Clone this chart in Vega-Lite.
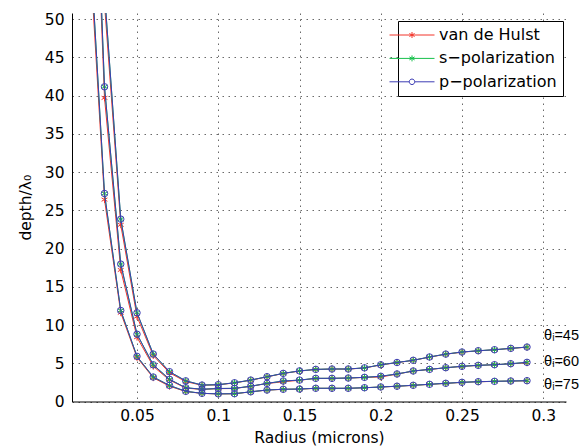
{
  "$schema": "https://vega.github.io/schema/vega-lite/v6.json",
  "width": 494,
  "height": 388.5,
  "autosize": {"type": "none"},
  "padding": {"left": 72, "top": 13, "right": 16, "bottom": 46.5},
  "background": "white",
  "config": {
    "view": {"stroke": null},
    "font": "DejaVu Sans",
    "axis": {
      "domainColor": "black",
      "domainWidth": 1,
      "gridColor": "#6a6a6a",
      "gridDash": [1.5, 4.5],
      "gridWidth": 1,
      "ticks": false,
      "labelFont": "DejaVu Sans",
      "labelFontSize": 15.5,
      "labelColor": "black",
      "titleFont": "DejaVu Sans",
      "titleFontSize": 15.5,
      "titleFontWeight": "normal",
      "titleColor": "black"
    }
  },
  "datasets": {
    "curves": [
      {"r":0.02,"theta":"45","series":"van de Hulst","v":145},
      {"r":0.03,"theta":"45","series":"van de Hulst","v":52},
      {"r":0.04,"theta":"45","series":"van de Hulst","v":23.1},
      {"r":0.05,"theta":"45","series":"van de Hulst","v":11.1},
      {"r":0.06,"theta":"45","series":"van de Hulst","v":6.0},
      {"r":0.07,"theta":"45","series":"van de Hulst","v":3.75},
      {"r":0.08,"theta":"45","series":"van de Hulst","v":2.6},
      {"r":0.09,"theta":"45","series":"van de Hulst","v":2.12},
      {"r":0.10,"theta":"45","series":"van de Hulst","v":2.18},
      {"r":0.11,"theta":"45","series":"van de Hulst","v":2.43},
      {"r":0.12,"theta":"45","series":"van de Hulst","v":2.78},
      {"r":0.13,"theta":"45","series":"van de Hulst","v":3.22},
      {"r":0.14,"theta":"45","series":"van de Hulst","v":3.66},
      {"r":0.15,"theta":"45","series":"van de Hulst","v":3.98},
      {"r":0.16,"theta":"45","series":"van de Hulst","v":4.18},
      {"r":0.17,"theta":"45","series":"van de Hulst","v":4.24},
      {"r":0.18,"theta":"45","series":"van de Hulst","v":4.24},
      {"r":0.19,"theta":"45","series":"van de Hulst","v":4.38},
      {"r":0.20,"theta":"45","series":"van de Hulst","v":4.78},
      {"r":0.21,"theta":"45","series":"van de Hulst","v":5.08},
      {"r":0.22,"theta":"45","series":"van de Hulst","v":5.38},
      {"r":0.23,"theta":"45","series":"van de Hulst","v":5.8},
      {"r":0.24,"theta":"45","series":"van de Hulst","v":6.18},
      {"r":0.25,"theta":"45","series":"van de Hulst","v":6.45},
      {"r":0.26,"theta":"45","series":"van de Hulst","v":6.62},
      {"r":0.27,"theta":"45","series":"van de Hulst","v":6.76},
      {"r":0.28,"theta":"45","series":"van de Hulst","v":6.94},
      {"r":0.29,"theta":"45","series":"van de Hulst","v":7.1},
      {"r":0.02,"theta":"60","series":"van de Hulst","v":94},
      {"r":0.03,"theta":"60","series":"van de Hulst","v":39.7},
      {"r":0.04,"theta":"60","series":"van de Hulst","v":17.2},
      {"r":0.05,"theta":"60","series":"van de Hulst","v":8.4},
      {"r":0.06,"theta":"60","series":"van de Hulst","v":4.6},
      {"r":0.07,"theta":"60","series":"van de Hulst","v":2.8},
      {"r":0.08,"theta":"60","series":"van de Hulst","v":1.75},
      {"r":0.09,"theta":"60","series":"van de Hulst","v":1.58},
      {"r":0.10,"theta":"60","series":"van de Hulst","v":1.68},
      {"r":0.11,"theta":"60","series":"van de Hulst","v":1.7},
      {"r":0.12,"theta":"60","series":"van de Hulst","v":1.98},
      {"r":0.13,"theta":"60","series":"van de Hulst","v":2.35},
      {"r":0.14,"theta":"60","series":"van de Hulst","v":2.58},
      {"r":0.15,"theta":"60","series":"van de Hulst","v":2.78},
      {"r":0.16,"theta":"60","series":"van de Hulst","v":3.01},
      {"r":0.17,"theta":"60","series":"van de Hulst","v":3.02},
      {"r":0.18,"theta":"60","series":"van de Hulst","v":3.06},
      {"r":0.19,"theta":"60","series":"van de Hulst","v":3.15},
      {"r":0.20,"theta":"60","series":"van de Hulst","v":3.2},
      {"r":0.21,"theta":"60","series":"van de Hulst","v":3.58},
      {"r":0.22,"theta":"60","series":"van de Hulst","v":3.98},
      {"r":0.23,"theta":"60","series":"van de Hulst","v":4.19},
      {"r":0.24,"theta":"60","series":"van de Hulst","v":4.41},
      {"r":0.25,"theta":"60","series":"van de Hulst","v":4.59},
      {"r":0.26,"theta":"60","series":"van de Hulst","v":4.72},
      {"r":0.27,"theta":"60","series":"van de Hulst","v":4.8},
      {"r":0.28,"theta":"60","series":"van de Hulst","v":4.93},
      {"r":0.29,"theta":"60","series":"van de Hulst","v":5.05},
      {"r":0.02,"theta":"75","series":"van de Hulst","v":62},
      {"r":0.03,"theta":"75","series":"van de Hulst","v":26.4},
      {"r":0.04,"theta":"75","series":"van de Hulst","v":11.6},
      {"r":0.05,"theta":"75","series":"van de Hulst","v":5.75},
      {"r":0.06,"theta":"75","series":"van de Hulst","v":3.1},
      {"r":0.07,"theta":"75","series":"van de Hulst","v":2.0},
      {"r":0.08,"theta":"75","series":"van de Hulst","v":1.3},
      {"r":0.09,"theta":"75","series":"van de Hulst","v":1.06},
      {"r":0.10,"theta":"75","series":"van de Hulst","v":0.99},
      {"r":0.11,"theta":"75","series":"van de Hulst","v":1.01},
      {"r":0.12,"theta":"75","series":"van de Hulst","v":1.26},
      {"r":0.13,"theta":"75","series":"van de Hulst","v":1.49},
      {"r":0.14,"theta":"75","series":"van de Hulst","v":1.59},
      {"r":0.15,"theta":"75","series":"van de Hulst","v":1.62},
      {"r":0.16,"theta":"75","series":"van de Hulst","v":1.72},
      {"r":0.17,"theta":"75","series":"van de Hulst","v":1.72},
      {"r":0.18,"theta":"75","series":"van de Hulst","v":1.72},
      {"r":0.19,"theta":"75","series":"van de Hulst","v":1.79},
      {"r":0.20,"theta":"75","series":"van de Hulst","v":1.89},
      {"r":0.21,"theta":"75","series":"van de Hulst","v":1.99},
      {"r":0.22,"theta":"75","series":"van de Hulst","v":2.11},
      {"r":0.23,"theta":"75","series":"van de Hulst","v":2.24},
      {"r":0.24,"theta":"75","series":"van de Hulst","v":2.37},
      {"r":0.25,"theta":"75","series":"van de Hulst","v":2.5},
      {"r":0.26,"theta":"75","series":"van de Hulst","v":2.58},
      {"r":0.27,"theta":"75","series":"van de Hulst","v":2.63},
      {"r":0.28,"theta":"75","series":"van de Hulst","v":2.67},
      {"r":0.29,"theta":"75","series":"van de Hulst","v":2.71},

      {"r":0.02,"theta":"45","series":"s−polarization","v":150},
      {"r":0.03,"theta":"45","series":"s−polarization","v":53.5},
      {"r":0.04,"theta":"45","series":"s−polarization","v":23.85},
      {"r":0.05,"theta":"45","series":"s−polarization","v":11.6},
      {"r":0.06,"theta":"45","series":"s−polarization","v":6.2},
      {"r":0.07,"theta":"45","series":"s−polarization","v":3.9},
      {"r":0.08,"theta":"45","series":"s−polarization","v":2.7},
      {"r":0.09,"theta":"45","series":"s−polarization","v":2.15},
      {"r":0.10,"theta":"45","series":"s−polarization","v":2.2},
      {"r":0.11,"theta":"45","series":"s−polarization","v":2.45},
      {"r":0.12,"theta":"45","series":"s−polarization","v":2.8},
      {"r":0.13,"theta":"45","series":"s−polarization","v":3.24},
      {"r":0.14,"theta":"45","series":"s−polarization","v":3.68},
      {"r":0.15,"theta":"45","series":"s−polarization","v":4.0},
      {"r":0.16,"theta":"45","series":"s−polarization","v":4.2},
      {"r":0.17,"theta":"45","series":"s−polarization","v":4.25},
      {"r":0.18,"theta":"45","series":"s−polarization","v":4.25},
      {"r":0.19,"theta":"45","series":"s−polarization","v":4.4},
      {"r":0.20,"theta":"45","series":"s−polarization","v":4.8},
      {"r":0.21,"theta":"45","series":"s−polarization","v":5.1},
      {"r":0.22,"theta":"45","series":"s−polarization","v":5.39},
      {"r":0.23,"theta":"45","series":"s−polarization","v":5.82},
      {"r":0.24,"theta":"45","series":"s−polarization","v":6.2},
      {"r":0.25,"theta":"45","series":"s−polarization","v":6.47},
      {"r":0.26,"theta":"45","series":"s−polarization","v":6.64},
      {"r":0.27,"theta":"45","series":"s−polarization","v":6.77},
      {"r":0.28,"theta":"45","series":"s−polarization","v":6.95},
      {"r":0.29,"theta":"45","series":"s−polarization","v":7.12},
      {"r":0.02,"theta":"60","series":"s−polarization","v":97},
      {"r":0.03,"theta":"60","series":"s−polarization","v":41.15},
      {"r":0.04,"theta":"60","series":"s−polarization","v":17.97},
      {"r":0.05,"theta":"60","series":"s−polarization","v":8.8},
      {"r":0.06,"theta":"60","series":"s−polarization","v":4.8},
      {"r":0.07,"theta":"60","series":"s−polarization","v":2.9},
      {"r":0.08,"theta":"60","series":"s−polarization","v":1.8},
      {"r":0.09,"theta":"60","series":"s−polarization","v":1.6},
      {"r":0.10,"theta":"60","series":"s−polarization","v":1.7},
      {"r":0.11,"theta":"60","series":"s−polarization","v":1.72},
      {"r":0.12,"theta":"60","series":"s−polarization","v":2.0},
      {"r":0.13,"theta":"60","series":"s−polarization","v":2.37},
      {"r":0.14,"theta":"60","series":"s−polarization","v":2.68},
      {"r":0.15,"theta":"60","series":"s−polarization","v":2.8},
      {"r":0.16,"theta":"60","series":"s−polarization","v":3.03},
      {"r":0.17,"theta":"60","series":"s−polarization","v":3.03},
      {"r":0.18,"theta":"60","series":"s−polarization","v":3.07},
      {"r":0.19,"theta":"60","series":"s−polarization","v":3.16},
      {"r":0.20,"theta":"60","series":"s−polarization","v":3.3},
      {"r":0.21,"theta":"60","series":"s−polarization","v":3.6},
      {"r":0.22,"theta":"60","series":"s−polarization","v":3.99},
      {"r":0.23,"theta":"60","series":"s−polarization","v":4.2},
      {"r":0.24,"theta":"60","series":"s−polarization","v":4.42},
      {"r":0.25,"theta":"60","series":"s−polarization","v":4.6},
      {"r":0.26,"theta":"60","series":"s−polarization","v":4.73},
      {"r":0.27,"theta":"60","series":"s−polarization","v":4.81},
      {"r":0.28,"theta":"60","series":"s−polarization","v":4.94},
      {"r":0.29,"theta":"60","series":"s−polarization","v":5.12},
      {"r":0.02,"theta":"75","series":"s−polarization","v":64},
      {"r":0.03,"theta":"75","series":"s−polarization","v":27.2},
      {"r":0.04,"theta":"75","series":"s−polarization","v":11.9},
      {"r":0.05,"theta":"75","series":"s−polarization","v":5.9},
      {"r":0.06,"theta":"75","series":"s−polarization","v":3.2},
      {"r":0.07,"theta":"75","series":"s−polarization","v":2.1},
      {"r":0.08,"theta":"75","series":"s−polarization","v":1.33},
      {"r":0.09,"theta":"75","series":"s−polarization","v":1.07},
      {"r":0.10,"theta":"75","series":"s−polarization","v":1.0},
      {"r":0.11,"theta":"75","series":"s−polarization","v":1.02},
      {"r":0.12,"theta":"75","series":"s−polarization","v":1.27},
      {"r":0.13,"theta":"75","series":"s−polarization","v":1.5},
      {"r":0.14,"theta":"75","series":"s−polarization","v":1.6},
      {"r":0.15,"theta":"75","series":"s−polarization","v":1.63},
      {"r":0.16,"theta":"75","series":"s−polarization","v":1.73},
      {"r":0.17,"theta":"75","series":"s−polarization","v":1.73},
      {"r":0.18,"theta":"75","series":"s−polarization","v":1.73},
      {"r":0.19,"theta":"75","series":"s−polarization","v":1.8},
      {"r":0.20,"theta":"75","series":"s−polarization","v":1.9},
      {"r":0.21,"theta":"75","series":"s−polarization","v":2.0},
      {"r":0.22,"theta":"75","series":"s−polarization","v":2.12},
      {"r":0.23,"theta":"75","series":"s−polarization","v":2.25},
      {"r":0.24,"theta":"75","series":"s−polarization","v":2.38},
      {"r":0.25,"theta":"75","series":"s−polarization","v":2.51},
      {"r":0.26,"theta":"75","series":"s−polarization","v":2.59},
      {"r":0.27,"theta":"75","series":"s−polarization","v":2.64},
      {"r":0.28,"theta":"75","series":"s−polarization","v":2.68},
      {"r":0.29,"theta":"75","series":"s−polarization","v":2.72},

      {"r":0.02,"theta":"45","series":"p−polarization","v":150},
      {"r":0.03,"theta":"45","series":"p−polarization","v":53.5},
      {"r":0.04,"theta":"45","series":"p−polarization","v":23.85},
      {"r":0.05,"theta":"45","series":"p−polarization","v":11.6},
      {"r":0.06,"theta":"45","series":"p−polarization","v":6.2},
      {"r":0.07,"theta":"45","series":"p−polarization","v":3.9},
      {"r":0.08,"theta":"45","series":"p−polarization","v":2.7},
      {"r":0.09,"theta":"45","series":"p−polarization","v":2.15},
      {"r":0.10,"theta":"45","series":"p−polarization","v":2.2},
      {"r":0.11,"theta":"45","series":"p−polarization","v":2.45},
      {"r":0.12,"theta":"45","series":"p−polarization","v":2.8},
      {"r":0.13,"theta":"45","series":"p−polarization","v":3.24},
      {"r":0.14,"theta":"45","series":"p−polarization","v":3.68},
      {"r":0.15,"theta":"45","series":"p−polarization","v":4.0},
      {"r":0.16,"theta":"45","series":"p−polarization","v":4.2},
      {"r":0.17,"theta":"45","series":"p−polarization","v":4.25},
      {"r":0.18,"theta":"45","series":"p−polarization","v":4.25},
      {"r":0.19,"theta":"45","series":"p−polarization","v":4.4},
      {"r":0.20,"theta":"45","series":"p−polarization","v":4.8},
      {"r":0.21,"theta":"45","series":"p−polarization","v":5.1},
      {"r":0.22,"theta":"45","series":"p−polarization","v":5.39},
      {"r":0.23,"theta":"45","series":"p−polarization","v":5.82},
      {"r":0.24,"theta":"45","series":"p−polarization","v":6.2},
      {"r":0.25,"theta":"45","series":"p−polarization","v":6.47},
      {"r":0.26,"theta":"45","series":"p−polarization","v":6.64},
      {"r":0.27,"theta":"45","series":"p−polarization","v":6.77},
      {"r":0.28,"theta":"45","series":"p−polarization","v":6.95},
      {"r":0.29,"theta":"45","series":"p−polarization","v":7.12},
      {"r":0.02,"theta":"60","series":"p−polarization","v":97},
      {"r":0.03,"theta":"60","series":"p−polarization","v":41.15},
      {"r":0.04,"theta":"60","series":"p−polarization","v":17.97},
      {"r":0.05,"theta":"60","series":"p−polarization","v":8.8},
      {"r":0.06,"theta":"60","series":"p−polarization","v":4.8},
      {"r":0.07,"theta":"60","series":"p−polarization","v":2.9},
      {"r":0.08,"theta":"60","series":"p−polarization","v":1.8},
      {"r":0.09,"theta":"60","series":"p−polarization","v":1.6},
      {"r":0.10,"theta":"60","series":"p−polarization","v":1.7},
      {"r":0.11,"theta":"60","series":"p−polarization","v":1.72},
      {"r":0.12,"theta":"60","series":"p−polarization","v":2.0},
      {"r":0.13,"theta":"60","series":"p−polarization","v":2.37},
      {"r":0.14,"theta":"60","series":"p−polarization","v":2.68},
      {"r":0.15,"theta":"60","series":"p−polarization","v":2.8},
      {"r":0.16,"theta":"60","series":"p−polarization","v":3.03},
      {"r":0.17,"theta":"60","series":"p−polarization","v":3.03},
      {"r":0.18,"theta":"60","series":"p−polarization","v":3.07},
      {"r":0.19,"theta":"60","series":"p−polarization","v":3.16},
      {"r":0.20,"theta":"60","series":"p−polarization","v":3.3},
      {"r":0.21,"theta":"60","series":"p−polarization","v":3.6},
      {"r":0.22,"theta":"60","series":"p−polarization","v":3.99},
      {"r":0.23,"theta":"60","series":"p−polarization","v":4.2},
      {"r":0.24,"theta":"60","series":"p−polarization","v":4.42},
      {"r":0.25,"theta":"60","series":"p−polarization","v":4.6},
      {"r":0.26,"theta":"60","series":"p−polarization","v":4.73},
      {"r":0.27,"theta":"60","series":"p−polarization","v":4.81},
      {"r":0.28,"theta":"60","series":"p−polarization","v":4.94},
      {"r":0.29,"theta":"60","series":"p−polarization","v":5.12},
      {"r":0.02,"theta":"75","series":"p−polarization","v":64},
      {"r":0.03,"theta":"75","series":"p−polarization","v":27.2},
      {"r":0.04,"theta":"75","series":"p−polarization","v":11.9},
      {"r":0.05,"theta":"75","series":"p−polarization","v":5.9},
      {"r":0.06,"theta":"75","series":"p−polarization","v":3.2},
      {"r":0.07,"theta":"75","series":"p−polarization","v":2.1},
      {"r":0.08,"theta":"75","series":"p−polarization","v":1.33},
      {"r":0.09,"theta":"75","series":"p−polarization","v":1.07},
      {"r":0.10,"theta":"75","series":"p−polarization","v":1.0},
      {"r":0.11,"theta":"75","series":"p−polarization","v":1.02},
      {"r":0.12,"theta":"75","series":"p−polarization","v":1.27},
      {"r":0.13,"theta":"75","series":"p−polarization","v":1.5},
      {"r":0.14,"theta":"75","series":"p−polarization","v":1.6},
      {"r":0.15,"theta":"75","series":"p−polarization","v":1.63},
      {"r":0.16,"theta":"75","series":"p−polarization","v":1.73},
      {"r":0.17,"theta":"75","series":"p−polarization","v":1.73},
      {"r":0.18,"theta":"75","series":"p−polarization","v":1.73},
      {"r":0.19,"theta":"75","series":"p−polarization","v":1.8},
      {"r":0.20,"theta":"75","series":"p−polarization","v":1.9},
      {"r":0.21,"theta":"75","series":"p−polarization","v":2.0},
      {"r":0.22,"theta":"75","series":"p−polarization","v":2.12},
      {"r":0.23,"theta":"75","series":"p−polarization","v":2.25},
      {"r":0.24,"theta":"75","series":"p−polarization","v":2.38},
      {"r":0.25,"theta":"75","series":"p−polarization","v":2.51},
      {"r":0.26,"theta":"75","series":"p−polarization","v":2.59},
      {"r":0.27,"theta":"75","series":"p−polarization","v":2.64},
      {"r":0.28,"theta":"75","series":"p−polarization","v":2.68},
      {"r":0.29,"theta":"75","series":"p−polarization","v":2.72}
    ],
    "labels": [
      {"r": 0.3005, "v": 8.56, "label": "θᵢ=45"},
      {"r": 0.3005, "v": 5.2, "label": "θᵢ=60"},
      {"r": 0.3005, "v": 2.16, "label": "θᵢ=75"}
    ]
  },
  "data": {"name": "curves"},
  "encoding": {
    "x": {
      "field": "r", "type": "quantitative",
      "scale": {"domain": [0.01, 0.314], "nice": false, "zero": false},
      "axis": {"values": [0.05, 0.1, 0.15, 0.2, 0.25, 0.3], "format": "~g", "title": "Radius (microns)", "labelPadding": 7, "titlePadding": 6, "grid": true}
    },
    "y": {
      "field": "v", "type": "quantitative",
      "scale": {"domain": [0, 50.8], "nice": false},
      "axis": {"values": [0, 5, 10, 15, 20, 25, 30, 35, 40, 45, 50], "title": "depth/λ₀", "labelPadding": 8, "titlePadding": 11, "grid": true}
    }
  },
  "layer": [
    {
      "transform": [{"filter": "datum.series === 'van de Hulst'"}],
      "mark": {"type": "line", "clip": true, "strokeWidth": 1},
      "encoding": {
        "detail": {"field": "theta"},
        "color": {
          "field": "series", "type": "nominal",
          "scale": {"domain": ["van de Hulst", "s−polarization", "p−polarization"], "range": ["#f2352b", "#17c04c", "#3d3db4"]},
          "legend": {
            "title": null,
            "orient": "none",
            "legendX": 326,
            "legendY": 8,
            "fillColor": "white",
            "strokeColor": "black",
            "padding": 6,
            "labelFont": "DejaVu Sans",
            "labelFontSize": 16,
            "labelColor": "black",
            "labelOffset": 19,
            "symbolSize": 100,
            "symbolStrokeWidth": 1,
            "rowPadding": 7.4,
            "encode": {
              "symbols": {
                "update": {
                  "shape": {"signal": "datum.value === 'p−polarization' ? 'M-4.5,0L-0.55,0M0.55,0L4.5,0M0.55,0A0.55,0.55,0,1,1,-0.55,0A0.55,0.55,0,1,1,0.55,0' : 'M-4.5,0L4.5,0M0,-0.6L0,0.6M-0.52,-0.3L0.52,0.3M-0.52,0.3L0.52,-0.3'"},
                  "fill": {"value": "transparent"},
                  "strokeWidth": {"value": 1},
                  "opacity": {"value": 1}
                }
              }
            }
          }
        }
      }
    },
    {
      "transform": [{"filter": "datum.series === 'van de Hulst'"}],
      "mark": {"type": "point", "clip": true, "filled": false, "size": 45, "strokeWidth": 1, "opacity": 1, "shape": "M0,-1L0,1M-0.87,-0.5L0.87,0.5M-0.87,0.5L0.87,-0.5"},
      "encoding": {"color": {"field": "series", "type": "nominal"}}
    },
    {
      "transform": [{"filter": "datum.series === 's−polarization'"}],
      "mark": {"type": "line", "clip": true, "strokeWidth": 1},
      "encoding": {"detail": {"field": "theta"}, "color": {"field": "series", "type": "nominal"}}
    },
    {
      "transform": [{"filter": "datum.series === 's−polarization'"}],
      "mark": {"type": "point", "clip": true, "filled": false, "size": 45, "strokeWidth": 1, "opacity": 1, "shape": "M0,-1L0,1M-0.87,-0.5L0.87,0.5M-0.87,0.5L0.87,-0.5"},
      "encoding": {"color": {"field": "series", "type": "nominal"}}
    },
    {
      "transform": [{"filter": "datum.series === 'p−polarization'"}],
      "mark": {"type": "line", "clip": true, "strokeWidth": 1},
      "encoding": {"detail": {"field": "theta"}, "color": {"field": "series", "type": "nominal"}}
    },
    {
      "transform": [{"filter": "datum.series === 'p−polarization'"}],
      "mark": {"type": "point", "clip": true, "filled": false, "size": 42, "strokeWidth": 1, "opacity": 1, "shape": "circle"},
      "encoding": {"color": {"field": "series", "type": "nominal"}}
    },
    {
      "data": {"name": "labels"},
      "mark": {"type": "text", "align": "left", "baseline": "middle", "font": "Liberation Sans", "fontSize": 14.5, "color": "black"},
      "encoding": {"text": {"field": "label"}}
    }
  ]
}
